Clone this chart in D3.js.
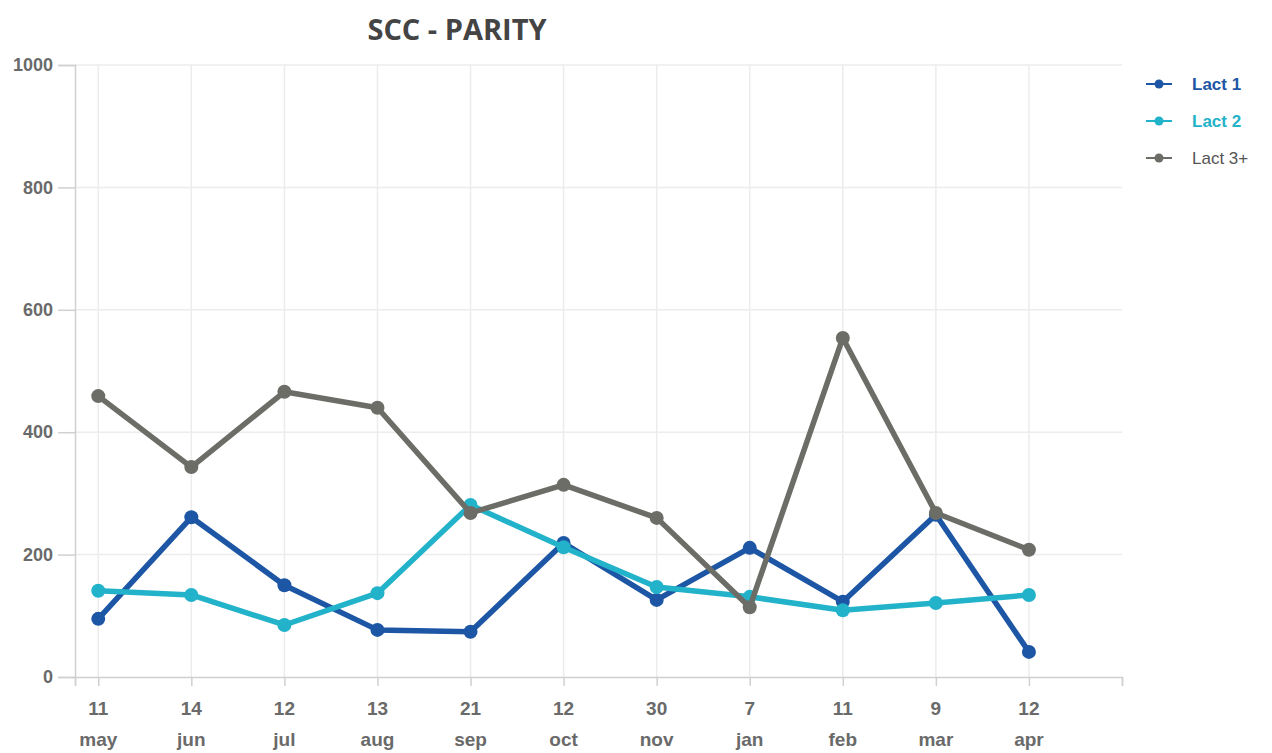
<!DOCTYPE html>
<html>
<head>
<meta charset="utf-8">
<script src="https://cdn.jsdelivr.net/npm/d3@7"></script>
<style>
  body { margin: 0; background: #fff; }
  svg { display: block; }
  .lbl { font-family: 'Liberation Sans Narrow', 'Liberation Sans', 'DejaVu Sans', sans-serif; font-stretch: condensed; }
</style>
</head>
<body>
<div id="chart"></div>
<script>
// chart data
const days = ['11', '14', '12', '13', '21', '12', '30', '7', '11', '9', '12'];
const months = ['may', 'jun', 'jul', 'aug', 'sep', 'oct', 'nov', 'jan', 'feb', 'mar', 'apr'];
const lact1 = [95, 261, 150, 77, 74, 219, 126, 211, 123, 265, 41];
const lact2 = [141, 134, 85, 137, 281, 212, 147, 131, 109, 121, 134];
const lact3 = [459, 343, 466, 440, 268, 314, 260, 114, 554, 268, 208];
const yTicks = [0, 200, 400, 600, 800, 1000];

const series = [
  { name: 'Lact 1', values: lact1, color: '#1c56a4', bold: true },
  { name: 'Lact 2', values: lact2, color: '#22b2c9', bold: true },
  { name: 'Lact 3+', values: lact3, color: '#6d6d67', bold: false }
];

const width = 1272, height = 753;
const svg = d3.select('#chart').append('svg')
  .attr('width', width)
  .attr('height', height);

const x = d3.scaleLinear().domain([-0.25, 11]).range([75, 1122]);
const y = d3.scaleLinear().domain([0, 1000]).range([677, 65]);
const idx = d3.range(days.length);

// gridlines
svg.append('g').selectAll('line.h')
  .data(yTicks.filter(d => d > 0))
  .join('line')
  .attr('x1', 75).attr('x2', 1122)
  .attr('y1', d => y(d)).attr('y2', d => y(d))
  .attr('stroke', '#ececec').attr('stroke-width', 1.5);

svg.append('g').selectAll('line.v')
  .data(idx)
  .join('line')
  .attr('x1', d => x(d)).attr('x2', d => x(d))
  .attr('y1', 65).attr('y2', 677)
  .attr('stroke', '#ececec').attr('stroke-width', 1.5);

// y axis
const yAxis = svg.append('g')
  .attr('transform', 'translate(75,0)')
  .call(d3.axisLeft(y).tickValues(yTicks).tickFormat(d3.format('d')).tickSize(17).tickPadding(5));
yAxis.attr('font-family', null);
yAxis.select('.domain').attr('stroke', '#d0d0d0').attr('stroke-width', 1.5);
yAxis.selectAll('.tick line').attr('stroke', '#d0d0d0').attr('stroke-width', 1.5);
yAxis.selectAll('text')
  .attr('class', 'lbl')
  .attr('fill', '#6a6a6a')
  .style('font-weight', 'bold')
  .style('font-size', '18px');

// x axis
const xAxis = svg.append('g')
  .attr('transform', 'translate(0,677)')
  .call(d3.axisBottom(x).tickValues([-0.25].concat(idx, [11])).tickSize(9).tickFormat(''));
xAxis.select('.domain').attr('stroke', '#d0d0d0').attr('stroke-width', 1.5);
xAxis.selectAll('.tick line').attr('stroke', '#d0d0d0').attr('stroke-width', 1.5);

const xl = svg.append('g')
  .attr('class', 'lbl')
  .style('font-weight', 'bold')
  .style('font-size', '19px')
  .attr('fill', '#6a6a6a')
  .attr('text-anchor', 'middle');
xl.selectAll('text.day').data(idx).join('text')
  .attr('x', d => x(d)).attr('y', 715)
  .text(d => days[d]);
xl.selectAll('text.mon').data(idx).join('text')
  .attr('x', d => x(d)).attr('y', 746)
  .text(d => months[d]);

// lines and points
const line = d3.line().x((d, i) => x(i)).y(d => y(d));
series.forEach(s => {
  const g = svg.append('g');
  g.append('path')
    .datum(s.values)
    .attr('d', line)
    .attr('fill', 'none')
    .attr('stroke', s.color)
    .attr('stroke-width', 5.5)
    .attr('stroke-linejoin', 'round');
  g.selectAll('circle').data(s.values).join('circle')
    .attr('cx', (d, i) => x(i))
    .attr('cy', d => y(d))
    .attr('r', 7)
    .attr('fill', s.color);
});

// title
svg.append('text')
  .attr('x', 457).attr('y', 40)
  .attr('text-anchor', 'middle')
  .attr('fill', '#444')
  .style('font-family', "'Open Sans', sans-serif")
  .style('font-weight', 'bold')
  .style('font-size', '29px')
  .text('SCC - PARITY');

// legend
const legend = svg.append('g').attr('transform', 'translate(1146,84)');
series.forEach((s, i) => {
  const row = legend.append('g').attr('transform', `translate(0,${i * 37})`);
  row.append('line').attr('x1', 0).attr('x2', 26).attr('y1', 0).attr('y2', 0)
    .attr('stroke', s.color).attr('stroke-width', 2);
  row.append('circle').attr('cx', 13).attr('cy', 0).attr('r', 4.5).attr('fill', s.color);
  row.append('text')
    .attr('class', 'lbl')
    .attr('x', 46).attr('y', 6)
    .attr('fill', s.bold ? s.color : '#555')
    .style('font-weight', s.bold ? 'bold' : 'normal')
    .style('font-size', '17px')
    .text(s.name);
});
</script>
</body>
</html>
